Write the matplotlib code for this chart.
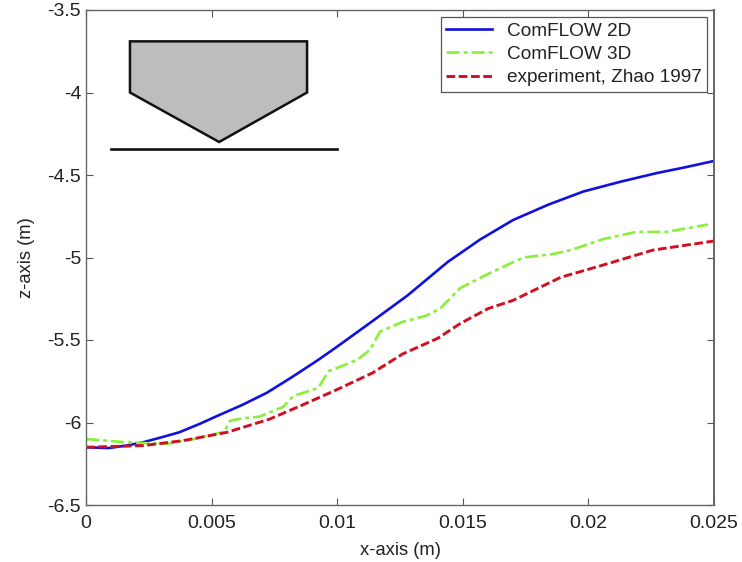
import matplotlib
matplotlib.use("Agg")
import matplotlib.pyplot as plt

############### data ################
x_2d = [0, 0.0009, 0.0016, 0.00227, 0.003, 0.0037, 0.0045, 0.0053, 0.0062, 0.0072, 0.00825, 0.00925,
        0.01, 0.0113, 0.0128, 0.0144, 0.0157, 0.017, 0.0184, 0.0198, 0.0213, 0.02273, 0.0238, 0.025]
z_2d = [-6.15, -6.155, -6.14, -6.12, -6.09, -6.06, -6.01, -5.955, -5.895, -5.82, -5.72, -5.62,
        -5.54, -5.397, -5.23, -5.027, -4.89, -4.773, -4.68, -4.60, -4.54, -4.488, -4.455, -4.415]

x_3d = [0, 0.0016, 0.0032, 0.0043, 0.0055, 0.00573, 0.0062, 0.0069, 0.00785, 0.00825, 0.00925, 0.00965,
        0.0108, 0.0113, 0.0117, 0.0126, 0.0135, 0.0141, 0.0149, 0.016, 0.0174, 0.01855, 0.0193, 0.0206,
        0.0219, 0.0231, 0.02476]
z_3d = [-6.10, -6.12, -6.13, -6.10, -6.057, -5.99, -5.975, -5.965, -5.905, -5.84, -5.79, -5.69,
        -5.62, -5.56, -5.45, -5.39, -5.355, -5.31, -5.185, -5.10, -5.0, -4.98, -4.955, -4.888,
        -4.845, -4.845, -4.80]

x_exp = [0, 0.00227, 0.00386, 0.0056, 0.0073, 0.0086, 0.01, 0.0114, 0.0126, 0.014, 0.0149, 0.016,
         0.017, 0.0189, 0.0206, 0.02257, 0.025]
z_exp = [-6.15, -6.14, -6.11, -6.06, -5.98, -5.895, -5.80, -5.70, -5.585, -5.49, -5.40, -5.31,
         -5.26, -5.12, -5.045, -4.955, -4.90]

hull_x = [0.00175, 0.0088, 0.0088, 0.0053, 0.00175]
hull_z = [-3.69, -3.69, -4.0, -4.30, -4.0]
bottom_x = [0.001, 0.01]
bottom_z = [-4.34, -4.34]

x_ticks = [0, 0.005, 0.01, 0.015, 0.02, 0.025]
x_ticklabels = ["0", "0.005", "0.01", "0.015", "0.02", "0.025"]
z_ticks = [-3.5, -4, -4.5, -5, -5.5, -6, -6.5]
z_ticklabels = ["-3.5", "-4", "-4.5", "-5", "-5.5", "-6", "-6.5"]

############### plot ################
plt.rcParams['font.family'] = ['Liberation Sans', 'DejaVu Sans']

fig = plt.figure(figsize=(7.42, 5.62), dpi=100)
ax = fig.add_axes([86 / 742, 1 - 505 / 562, 628 / 742, 495 / 562])

ax.plot(x_2d, z_2d, color='#1010e0', linewidth=1.9, label='ComFLOW 2D')
ax.plot(x_3d, z_3d, color='#88f038', linewidth=1.9, linestyle=(0, (5, 1.5, 1.5, 1.5)), label='ComFLOW 3D')
ax.plot(x_exp, z_exp, color='#d01020', linewidth=2.1, linestyle=(0, (3, 1.2)), label='experiment, Zhao 1997')

# sketch of the wedge above the surface
ax.fill(hull_x, hull_z, facecolor='#bdbdbd', edgecolor='#111111', linewidth=1.8, joinstyle='miter')
ax.plot(bottom_x, bottom_z, color='#111111', linewidth=1.9)

ax.set_xlim(0, 0.025)
ax.set_ylim(-6.5, -3.5)
ax.set_xticks(x_ticks)
ax.set_xticklabels(x_ticklabels)
ax.set_yticks(z_ticks)
ax.set_yticklabels(z_ticklabels)
ax.tick_params(direction='in', top=True, right=True, length=5, width=0.8, color='#555555',
               labelsize=14, labelcolor='#222222')
ax.tick_params(axis='x', pad=7)
ax.tick_params(axis='y', pad=3.5)
for spine in ax.spines.values():
    spine.set_color('#666666')
    spine.set_linewidth(1.0)
ax.spines['right'].set_linewidth(1.4)

ax.set_xlabel('x-axis (m)', fontsize=13.2, color='#222222', labelpad=7.5)
ax.set_ylabel('z-axis (m)', fontsize=13.2, color='#222222', labelpad=9)

leg = ax.legend(loc='upper right', bbox_to_anchor=(0.989, 0.986), fontsize=13.7,
                fancybox=False, framealpha=1, edgecolor='#555555', borderaxespad=0,
                handlelength=2.4, handletextpad=0.8, labelspacing=0.32, borderpad=0.28)
leg.get_frame().set_linewidth(0.9)
for text in leg.get_texts():
    text.set_color('#222222')

fig.savefig('out.png', dpi=100)
